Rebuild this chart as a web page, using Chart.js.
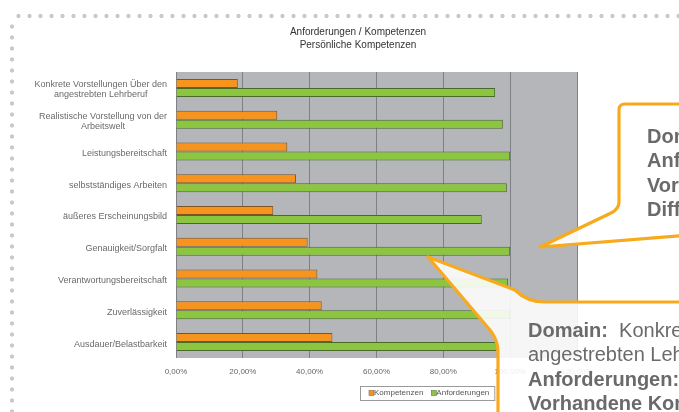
<!DOCTYPE html>
<html lang="de">
<head>
<meta charset="UTF-8">
<title>Anforderungen / Kompetenzen</title>
<script src="https://cdn.jsdelivr.net/npm/chart.js"></script>
<style>
  html, body { margin: 0; padding: 0; background: #fff; overflow: hidden; }
  #wrap { position: relative; width: 679px; height: 412px; overflow: hidden; }
  #chart { position: absolute; left: 0; top: 0; }
  .dots-top { position: absolute; left: 13px; top: 12px; width: 670px; height: 8px;
    background: radial-gradient(circle, #cacaca 1.8px, transparent 2.4px) 0 0 / 11px 8px repeat-x; }
  .dots-left { position: absolute; left: 8px; top: 21px; width: 8px; height: 400px;
    background: radial-gradient(circle, #cacaca 1.8px, transparent 2.4px) 0 0 / 8px 11px repeat-y; }
  svg.callouts { position: absolute; left: 0; top: 0; }
  .bubble-text { position: absolute; font-family: "Liberation Sans", Arial, sans-serif; font-size: 20px;
    line-height: 24.4px; color: #6a6a6a; white-space: nowrap; }
</style>
</head>
<body>
<div id="wrap">
  <div class="dots-top"></div>
  <div class="dots-left"></div>
  <canvas id="chart" width="679" height="412"></canvas>
  <svg class="callouts" width="679" height="412">
    <path d="M 690 104 L 625 104 Q 619 104 619 110 L 619 202 Q 619 209 611 213 L 540 247 L 690 235 Z"
          fill="rgba(255,255,255,0.93)" stroke="#f8aa1c" stroke-width="3.2" stroke-linejoin="round"/>
    <path d="M 690 302 L 545 302 Q 527 302 515 290 L 428 257 L 490 330 Q 498 340 498 352 L 498 430 L 690 430 Z"
          fill="rgba(255,255,255,0.88)" stroke="#f8aa1c" stroke-width="3.2" stroke-linejoin="round"/>
  </svg>
  <div class="bubble-text" style="left:647px; top:124px;">
    <b>Domain:</b><br><b>Anforderungen:</b><br><b>Vorhandene Kompetenzen:</b><br><b>Differenz:</b>
  </div>
  <div class="bubble-text" style="left:528px; top:318px;">
    <b>Domain:</b>&nbsp; Konkrete Vorstellungen über den<br>angestrebten Lehrberuf<br><b>Anforderungen:</b><br><b>Vorhandene Kompetenzen:</b>
  </div>
</div>

<script>
    const titleLines = ['Anforderungen / Kompetenzen', 'Persönliche Kompetenzen'];
    const categories = [
        ['Konkrete Vorstellungen Über den', 'angestrebten Lehrberuf'],
        ['Realistische Vorstellung von der', 'Arbeitswelt'],
        'Leistungsbereitschaft',
        'selbstständiges Arbeiten',
        'äußeres Erscheinungsbild',
        'Genauigkeit/Sorgfalt',
        'Verantwortungsbereitschaft',
        'Zuverlässigkeit',
        'Ausdauer/Belastbarkeit'
    ];
    const kompetenzen = [18.5, 30.3, 33.3, 35.9, 29.1, 39.4, 42.3, 43.6, 46.8];
    const anforderungen = [95.5, 97.8, 100, 99.0, 91.5, 100, 99.4, 100, 96.0];
    const xTicks = [0, 20, 40, 60, 80, 100, 120];

    const FONT = '"Liberation Sans", Arial, sans-serif';

    // grey plot area, title, category labels and boxed legend
    const decor = {
        id: 'decor',
        beforeDraw(chart) {
            const { ctx, chartArea: a } = chart;
            ctx.save();
            ctx.fillStyle = '#b4b6ba';
            ctx.fillRect(a.left, a.top, a.right - a.left, a.bottom - a.top);
            ctx.restore();
        },
        afterDraw(chart) {
            const { ctx, chartArea: a, scales: { y } } = chart;
            ctx.save();
            ctx.textBaseline = 'middle';

            ctx.fillStyle = '#333';
            ctx.font = '10px ' + FONT;
            ctx.textAlign = 'center';
            titleLines.forEach((t, i) => ctx.fillText(t, 358, 32 + i * 13));

            ctx.fillStyle = '#6a6a6a';
            ctx.font = '9px ' + FONT;
            categories.forEach((lab, i) => {
                const lines = Array.isArray(lab) ? lab : [lab];
                const w = Math.max(...lines.map(l => ctx.measureText(l).width));
                const cx = a.left - 9 - w / 2;
                const cy = y.getPixelForValue(i) + 2;
                lines.forEach((l, j) => ctx.fillText(l, cx, cy + (j - (lines.length - 1) / 2) * 10));
            });

            // legend
            ctx.font = '8px ' + FONT;
            ctx.textAlign = 'left';
            let x = 369;
            const ly = 393;
            chart.data.datasets.forEach(ds => {
                ctx.fillStyle = ds.backgroundColor;
                ctx.fillRect(x, ly - 2.5, 5, 5);
                ctx.strokeStyle = ds.borderColor;
                ctx.lineWidth = 0.5;
                ctx.strokeRect(x, ly - 2.5, 5, 5);
                ctx.fillStyle = '#555';
                ctx.fillText(ds.label, x + 5, ly);
                x += 5 + ctx.measureText(ds.label).width + 8;
            });
            ctx.strokeStyle = '#9a9a9a';
            ctx.lineWidth = 1;
            ctx.strokeRect(360.5, 386.5, x - 360 - 3, 14);
            ctx.restore();
        }
    };

    new Chart(document.getElementById('chart'), {
        type: 'bar',
        data: {
            labels: categories,
            datasets: [{
                label: 'Kompetenzen',
                data: kompetenzen,
                backgroundColor: '#f7941e',
                borderColor: '#7d5524',
                borderWidth: 1
            }, {
                label: 'Anforderungen',
                data: anforderungen,
                backgroundColor: '#8cc540',
                borderColor: '#4a6a2c',
                borderWidth: 1
            }]
        },
        options: {
            indexAxis: 'y',
            responsive: false,
            animation: false,
            categoryPercentage: 0.566,
            barPercentage: 1,
            layout: { padding: { left: 176, right: 102, top: 72, bottom: 34 } },
            plugins: {
                legend: { display: false },
                title: { display: false },
                tooltip: { enabled: false }
            },
            scales: {
                x: {
                    min: xTicks[0],
                    max: xTicks[xTicks.length - 1],
                    afterFit: s => { s.height = 20; },
                    afterBuildTicks: s => { s.ticks = xTicks.map(v => ({ value: v })); },
                    grid: { color: '#7e8084', lineWidth: 1, drawTicks: false },
                    border: { display: false },
                    ticks: {
                        padding: 9,
                        color: '#666',
                        font: { family: FONT, size: 8 },
                        callback: v => v.toFixed(2).replace('.', ',') + '%'
                    }
                },
                y: {
                    display: false
                }
            }
        },
        plugins: [decor]
    });
</script>
</body>
</html>
